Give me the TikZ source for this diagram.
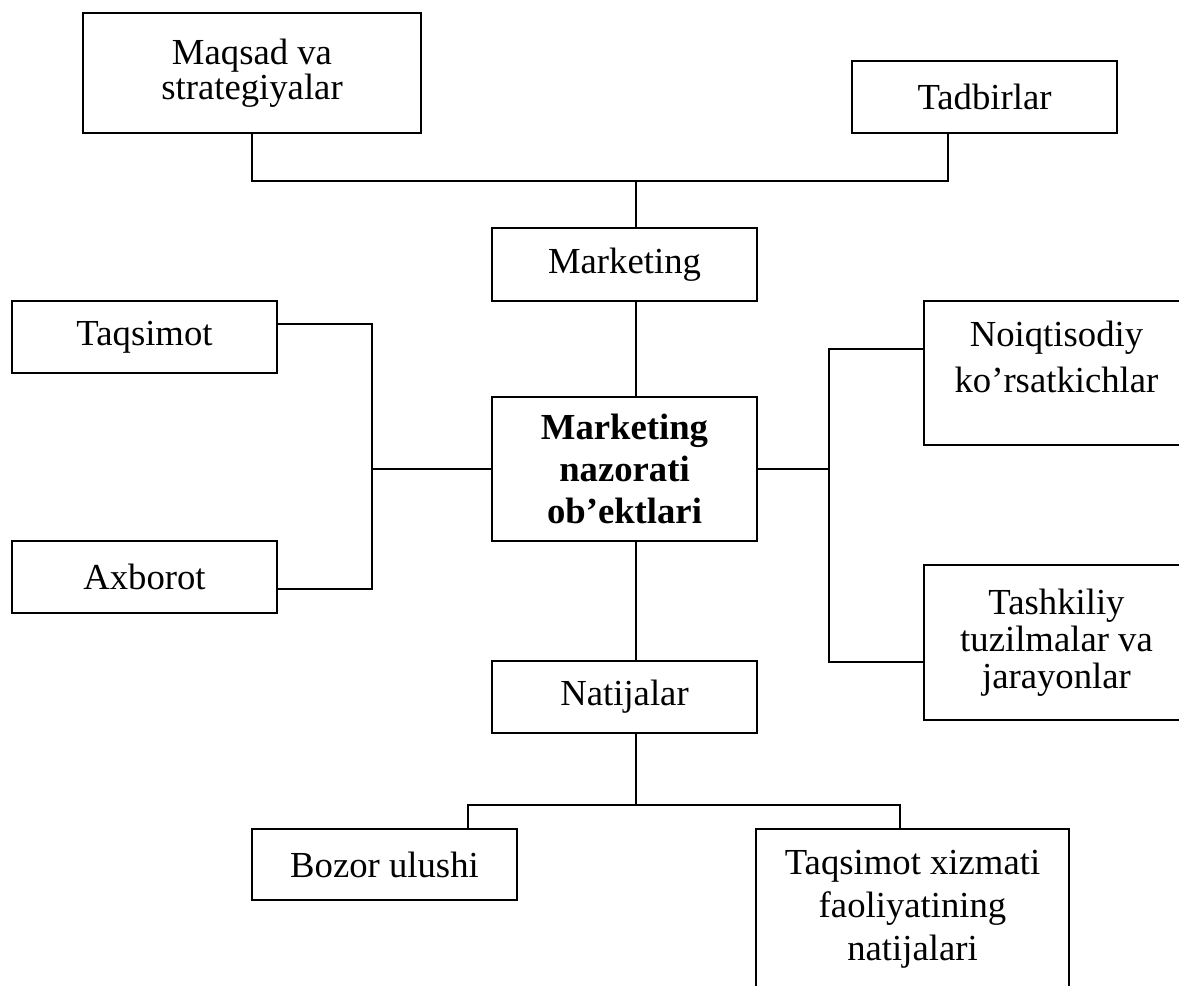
\documentclass[tikz,border=0pt]{standalone}
\usepackage{fontspec}
\setmainfont{Liberation Serif}
% body text at 18.35pt, with the line spacing given per box
\newcommand\setfs[1]{\fontsize{18.35}{#1}\selectfont}
\begin{document}
\begin{tikzpicture}[x=0.5pt,y=-0.5pt,
  box/.style={draw, line width=1.25pt, rectangle, inner sep=0pt, align=center},
  sz/.style 2 args={minimum width=#1*0.5pt, minimum height=#2*0.5pt},
  txt/.style={inner sep=0pt, align=center},
  link/.style={line width=1pt}]
\clip (0,0) rectangle (1179,986);

% boxes
\node[box, sz={338}{120}, font=\setfs{17.5pt}] (maqsad) at (252,73) {Maqsad va\\strategiyalar};
\node[box, sz={265}{72}, font=\setfs{18pt}] (tadbir) at (984.5,97) {Tadbirlar};
\node[box, sz={265}{73}, font=\setfs{18pt}] (marketing) at (624.5,264.5) {Marketing};
\node[box, sz={265}{144}, font=\setfs{21.2pt}\bfseries] (central) at (624.5,469) {Marketing\\nazorati\\ob’ektlari};
\node[box, sz={265}{72}, font=\setfs{18pt}] (taqsimot) at (144.5,337) {Taqsimot};
\node[box, sz={265}{72}, font=\setfs{18pt}] (axborot) at (144.5,577) {Axborot};
\node[box, sz={265}{144}] (noiq) at (1056.5,373) {};
\node[txt, font=\setfs{23pt}] (noiqtxt) at (1056.5,356.5) {Noiqtisodiy\\ko’rsatkichlar};
\node[box, sz={265}{155}, font=\setfs{18.5pt}] (tashk) at (1056.5,642.5) {Tashkiliy\\tuzilmalar va\\jarayonlar};
\node[box, sz={265}{72}, font=\setfs{18pt}] (natijalar) at (624.5,697) {Natijalar};
\node[box, sz={265}{71}, font=\setfs{18pt}] (bozor) at (384.5,864.5) {Bozor ulushi};
\node[box, sz={313}{160}, font=\setfs{21.5pt}] (taqxiz) at (912.5,909) {Taqsimot xizmati\\faoliyatining\\natijalari};

% junction points of the connector lines
\coordinate (jtop) at (636,181);
\coordinate (jtd) at (948,181);
\coordinate (jlt) at (372,324);
\coordinate (jlb) at (372,589);
\coordinate (jrt) at (829,349);
\coordinate (jrb) at (829,662);
\coordinate (jb) at (636,805);
\coordinate (jbl) at (468,805);
\coordinate (jbr) at (900,805);

% connectors
\draw[link] (maqsad.south) |- (jtd) -- (tadbir.south -| jtd);
\draw[link] (jtop) -- (marketing.north -| jtop);
\draw[link] (marketing.south -| jtop) -- (central.north -| jtop);
\draw[link] (central.west) -- (central.west -| jlt);
\draw[link] (taqsimot.east |- jlt) -- (jlt) -- (jlb) -- (axborot.east |- jlb);
\draw[link] (central.east) -- (central.east -| jrt);
\draw[link] (noiq.west |- jrt) -- (jrt) -- (jrb) -- (tashk.west |- jrb);
\draw[link] (central.south -| jtop) -- (natijalar.north -| jtop);
\draw[link] (natijalar.south -| jb) -- (jb);
\draw[link] (bozor.north -| jbl) -- (jbl) -- (jbr) -- (taqxiz.north -| jbr);
\end{tikzpicture}
\end{document}
